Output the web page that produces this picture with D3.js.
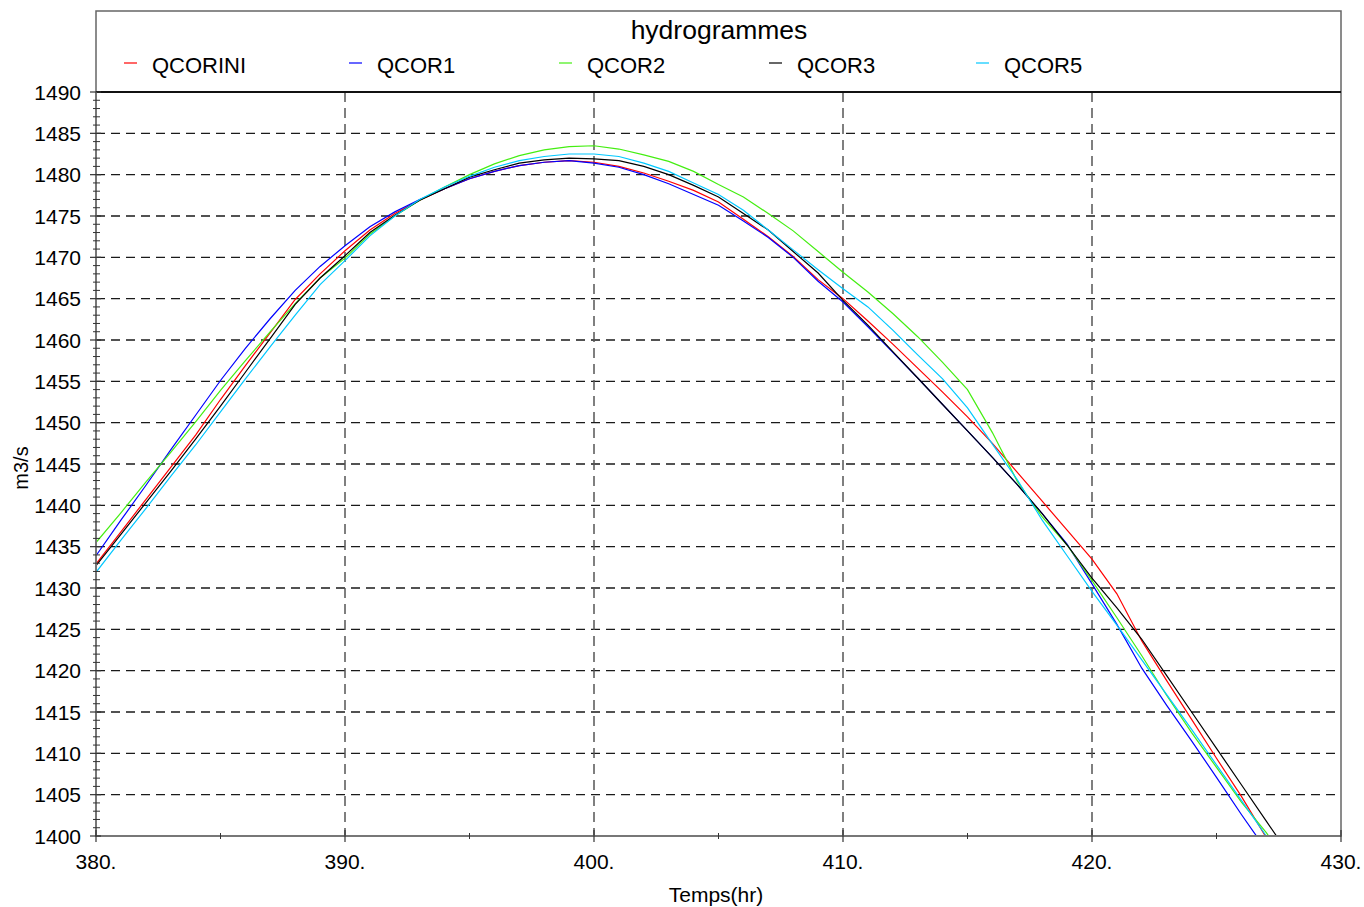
<!DOCTYPE html>
<html><head><meta charset="utf-8">
<script src="https://cdn.jsdelivr.net/npm/d3@7"></script>
<style>
body{margin:0;background:#fff}
svg{display:block}
text{font-family:"Liberation Sans",Arial,Helvetica,sans-serif;fill:#000}
</style>
</head><body>
<svg id="chart" width="1364" height="907"></svg>
<script>
// ---- data ----
const hours = [380,381,382,383,384,385,386,387,388,389,390,391,392,393,394,395,396,397,398,399,400,401,402,403,404,405,406,407,408,409,410,411,412,413,414,415,416,417,418,419,420,421,422,423,424,425,426,427,428];
const QCORINI = [1432.9,1436.8,1440.7,1444.6,1448.5,1452.8,1456.9,1460.9,1464.9,1468.0,1470.8,1473.3,1475.3,1476.9,1478.3,1479.5,1480.4,1481.1,1481.5,1481.7,1481.5,1481.0,1480.2,1479.2,1478.1,1476.7,1474.6,1472.5,1470.1,1467.3,1465.0,1462.3,1459.5,1456.6,1453.7,1450.7,1447.5,1444.0,1440.5,1437.0,1433.5,1429.3,1423.6,1418.8,1414.1,1409.4,1404.8,1399.8,1395.0];
const QCOR1 = [1433.9,1438.2,1442.4,1446.7,1450.9,1455.1,1459.0,1462.6,1466.0,1468.9,1471.4,1473.7,1475.5,1477.0,1478.3,1479.5,1480.4,1481.1,1481.5,1481.7,1481.4,1480.9,1480.0,1478.9,1477.6,1476.3,1474.4,1472.4,1470.0,1467.1,1464.6,1461.6,1458.5,1455.4,1452.2,1449.0,1445.8,1442.5,1439.0,1435.3,1430.5,1425.6,1420.3,1415.8,1411.5,1407.1,1402.6,1398.3,1394.0];
const QCOR2 = [1435.5,1439.1,1442.8,1446.4,1450.1,1453.9,1457.5,1461.0,1464.4,1467.5,1469.9,1472.8,1475.0,1476.9,1478.5,1480.0,1481.3,1482.3,1483.0,1483.4,1483.5,1483.1,1482.4,1481.6,1480.4,1478.8,1477.3,1475.3,1473.2,1470.7,1468.2,1465.8,1463.2,1460.4,1457.3,1454.0,1448.8,1442.9,1438.6,1435.2,1430.9,1426.4,1421.8,1417.0,1412.5,1408.3,1404.1,1400.4,1396.2];
const QCOR3 = [1432.7,1436.5,1440.3,1444.1,1448.0,1452.0,1456.1,1460.2,1464.3,1467.5,1470.2,1473.0,1475.1,1476.9,1478.3,1479.7,1480.6,1481.4,1481.8,1482.0,1481.9,1481.7,1481.0,1480.0,1478.7,1477.3,1475.3,1473.3,1470.7,1468.1,1464.8,1461.8,1458.6,1455.4,1452.2,1449.0,1445.8,1442.5,1439.0,1435.2,1431.2,1427.6,1423.8,1419.4,1415.0,1410.6,1406.2,1401.8,1397.4];
const QCOR5 = [1431.9,1435.8,1439.6,1443.5,1447.3,1451.3,1455.3,1459.2,1463.0,1466.7,1469.6,1472.6,1475.0,1477.0,1478.5,1479.8,1480.9,1481.7,1482.2,1482.5,1482.5,1482.2,1481.4,1480.4,1479.0,1477.6,1475.7,1473.3,1470.9,1468.5,1466.2,1464.0,1461.2,1458.2,1455.3,1451.8,1447.4,1443.1,1438.2,1433.9,1429.6,1425.5,1421.3,1417.1,1412.9,1408.6,1404.3,1400.0,1395.8];

const seriesNames = ["QCORINI","QCOR1","QCOR2","QCOR3","QCOR5"];
const seriesValues = [QCORINI, QCOR1, QCOR2, QCOR3, QCOR5];
const seriesColors = ["#ff0000","#0000ff","#44ee11","#000000","#00c8ff"];
const legendTextX = [152,377,587,797,1004];

const xMajorTicks = [380,390,400,410,420,430];
const xTickLabels = ["380.","390.","400.","410.","420.","430."];
const xMinorTicks = [385,395,405,415,425];
const yMajorTicks = [1400,1405,1410,1415,1420,1425,1430,1435,1440,1445,1450,1455,1460,1465,1470,1475,1480,1485,1490];
const yMinorTicks = [];
for (const v of yMajorTicks) { if (v < 1490) for (let k = 1; k < 5; k++) yMinorTicks.push(v + k); }

const chartTitle = "hydrogrammes";
const xTitle = "Temps(hr)";
const yTitle = "m3/s";

// ---- layout ----
const L = 96, R = 1341, T = 92, B = 836, FT = 11;
const svg = d3.select("#chart");
const x = d3.scaleLinear().domain([380, 430]).range([L, R]);
const y = d3.scaleLinear().domain([1400, 1490]).range([B, T]);

// frame
svg.append("rect").attr("x", L).attr("y", FT).attr("width", R - L).attr("height", B - FT)
  .attr("fill", "none").attr("stroke", "#666").attr("stroke-width", 1.5);

// grid
const gGrid = svg.append("g");
gGrid.selectAll("line.h").data(yMajorTicks.filter(v => v > 1400 && v < 1490)).join("line")
  .attr("x1", L).attr("x2", R).attr("y1", d => y(d)).attr("y2", d => y(d))
  .attr("stroke", "#1a1a1a").attr("stroke-width", 1.3).attr("stroke-dasharray", "9,6");
gGrid.selectAll("line.v").data(xMajorTicks.filter(v => v > 380 && v < 430)).join("line")
  .attr("x1", d => x(d)).attr("x2", d => x(d)).attr("y1", T).attr("y2", B)
  .attr("stroke", "#555").attr("stroke-width", 1.5).attr("stroke-dasharray", "10,6");

// top line of plot (1490)
svg.append("line").attr("x1", L).attr("x2", R).attr("y1", y(1490)).attr("y2", y(1490))
  .attr("stroke", "#111").attr("stroke-width", 2);

// clip
svg.append("clipPath").attr("id", "clip").append("rect")
  .attr("x", L).attr("y", T).attr("width", R - L).attr("height", B - T);

const line = d3.line().x((d, i) => x(hours[i])).y(d => y(d));
const gLines = svg.append("g").attr("clip-path", "url(#clip)");
seriesValues.forEach((vals, i) => {
  gLines.append("path").datum(vals).attr("d", line)
    .attr("fill", "none").attr("stroke", seriesColors[i]).attr("stroke-width", 1.2);
});

// axes lines
svg.append("line").attr("x1", L).attr("x2", R).attr("y1", B).attr("y2", B).attr("stroke", "#777").attr("stroke-width", 2);
svg.append("line").attr("x1", L).attr("x2", L).attr("y1", T).attr("y2", B).attr("stroke", "#777").attr("stroke-width", 2);

// y ticks
svg.append("g").selectAll("line").data(yMajorTicks).join("line")
  .attr("x1", L - 6).attr("x2", L + 5).attr("y1", d => y(d)).attr("y2", d => y(d))
  .attr("stroke", "#333").attr("stroke-width", 1.2);
svg.append("g").selectAll("line").data(yMinorTicks).join("line")
  .attr("x1", L - 3).attr("x2", L + 4).attr("y1", d => y(d)).attr("y2", d => y(d))
  .attr("stroke", "#333").attr("stroke-width", 1);
svg.append("g").selectAll("text").data(yMajorTicks).join("text")
  .attr("x", 81).attr("y", d => y(d)).attr("dy", "0.36em").attr("text-anchor", "end")
  .attr("font-size", 21).text(d => d);

// x ticks
svg.append("g").selectAll("line").data(xMajorTicks).join("line")
  .attr("x1", d => x(d)).attr("x2", d => x(d)).attr("y1", B - 6).attr("y2", B + 6)
  .attr("stroke", "#333").attr("stroke-width", 1.2);
svg.append("g").selectAll("line").data(xMinorTicks).join("line")
  .attr("x1", d => x(d)).attr("x2", d => x(d)).attr("y1", B - 3).attr("y2", B + 3)
  .attr("stroke", "#333").attr("stroke-width", 1);
svg.append("g").selectAll("text").data(xMajorTicks).join("text")
  .attr("x", d => x(d)).attr("y", 869).attr("text-anchor", "middle")
  .attr("font-size", 21).text((d, i) => xTickLabels[i]);

// titles
svg.append("text").attr("x", 719).attr("y", 39).attr("text-anchor", "middle")
  .attr("font-size", 26.5).text(chartTitle);
svg.append("text").attr("x", 716).attr("y", 902).attr("text-anchor", "middle")
  .attr("font-size", 21).text(xTitle);
svg.append("text").attr("transform", "translate(28,468) rotate(-90)").attr("text-anchor", "middle")
  .attr("font-size", 20).text(yTitle);

// legend
const gLeg = svg.append("g");
seriesNames.forEach((name, i) => {
  const tx = legendTextX[i];
  gLeg.append("line").attr("x1", tx - 28).attr("x2", tx - 15).attr("y1", 63).attr("y2", 63)
    .attr("stroke", seriesColors[i]).attr("stroke-width", 1.2);
  gLeg.append("text").attr("x", tx).attr("y", 73).attr("font-size", 22).text(name);
});
</script>
</body></html>
